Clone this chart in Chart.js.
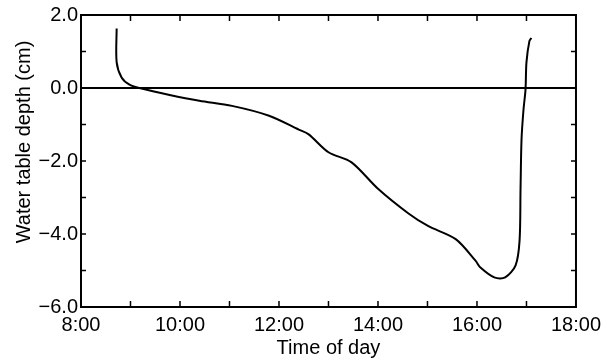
<!DOCTYPE html>
<html>
<head>
<meta charset="utf-8">
<script src="https://cdn.jsdelivr.net/npm/chart.js@4/dist/chart.umd.min.js"></script>
<style>
    html, body { margin: 0; padding: 0; background: #fff; }
    #wrap { width: 607px; height: 360px; }
</style>
</head>
<body>
<div id="wrap"><canvas id="chart"></canvas></div>
<script>
// Time of day (decimal hours) and water table depth (cm)
const times = [8.72, 8.72, 8.82, 8.98, 9.18, 9.79, 10.39, 11.05, 11.80, 12.40, 12.60, 13.00, 13.46,
    14.00, 14.61, 15.01, 15.57, 15.97, 16.07, 16.35, 16.57, 16.78, 16.86, 16.88, 16.90, 16.94,
    16.98, 17.00, 17.06, 17.10];
const depths = [1.63, 0.71, 0.29, 0.09, 0.0, -0.19, -0.35, -0.49, -0.76, -1.14, -1.27, -1.76, -2.03,
    -2.76, -3.43, -3.78, -4.14, -4.73, -4.92, -5.19, -5.19, -4.86, -4.19, -2.76, -1.41, -0.59,
    -0.05, 0.71, 1.29, 1.37];

// zero reference line
const zeroTimes = [8, 18];
const zeroValues = [0, 0];

const xLabelTicks = [8, 10, 12, 14, 16, 18];
const yLabelTicks = [2, 0, -2, -4, -6];

const FONT = "'Liberation Sans', Arial, Helvetica, sans-serif";

function formatTime(h) {
    return h + ':00';
}
function formatDepth(v) {
    const s = Math.abs(v).toFixed(1);
    return v < 0 ? '\u2212' + s : s;
}

// frame, inward ticks on all sides and the rotated y title
const framePlugin = {
    id: 'frame',
    afterDraw(chart) {
        const ctx = chart.ctx;
        const area = chart.chartArea;
        const xs = chart.scales.x;
        const ys = chart.scales.y;
        ctx.save();
        ctx.strokeStyle = '#000';
        ctx.lineWidth = 2;
        ctx.strokeRect(area.left, area.top, area.right - area.left, area.bottom - area.top);

        ctx.lineWidth = 1.5;
        ctx.beginPath();
        for (let h = 9; h < 18; h++) {
            const px = xs.getPixelForValue(h);
            ctx.moveTo(px, area.bottom);
            ctx.lineTo(px, area.bottom - 6);
            ctx.moveTo(px, area.top);
            ctx.lineTo(px, area.top + 6);
        }
        for (let v = -5; v < 2; v++) {
            const py = ys.getPixelForValue(v);
            ctx.moveTo(area.left, py);
            ctx.lineTo(area.left + 5, py);
            ctx.moveTo(area.right, py);
            ctx.lineTo(area.right - 5, py);
        }
        ctx.stroke();

        ctx.fillStyle = '#000';
        ctx.font = '20px ' + FONT;
        ctx.textAlign = 'center';
        ctx.textBaseline = 'middle';
        ctx.translate(24, 142);
        ctx.rotate(-Math.PI / 2);
        ctx.fillText('Water table depth (cm)', 0, 0);
        ctx.restore();
    }
};

const ctx = document.getElementById('chart').getContext('2d');
new Chart(ctx, {
    type: 'line',
    data: {
        datasets: [{
            data: times.map((t, i) => ({ x: t, y: depths[i] })),
            borderColor: '#000',
            borderWidth: 2,
            pointRadius: 0,
            tension: 0.3,
            fill: false
        }, {
            data: zeroTimes.map((t, i) => ({ x: t, y: zeroValues[i] })),
            borderColor: '#000',
            borderWidth: 2,
            pointRadius: 0,
            fill: false
        }]
    },
    options: {
        responsive: true,
        maintainAspectRatio: false,
        animation: false,
        layout: {
            padding: { top: 15, right: 28, left: 0, bottom: 0 }
        },
        plugins: {
            legend: { display: false },
            tooltip: { enabled: false }
        },
        scales: {
            x: {
                type: 'linear',
                min: 8,
                max: 18,
                afterBuildTicks: axis => {
                    axis.ticks = xLabelTicks.map(v => ({ value: v }));
                },
                afterFit: axis => { axis.height = 53; },
                grid: { display: false, drawTicks: false },
                border: { display: false },
                ticks: {
                    color: '#000',
                    padding: 6,
                    maxRotation: 0,
                    font: { family: FONT, size: 20 },
                    callback: v => formatTime(v)
                },
                title: {
                    display: true,
                    text: 'Time of day',
                    color: '#000',
                    padding: { top: 0, bottom: 0 },
                    font: { family: FONT, size: 20 }
                }
            },
            y: {
                min: -6,
                max: 2,
                afterBuildTicks: axis => {
                    axis.ticks = yLabelTicks.map(v => ({ value: v }));
                },
                afterFit: axis => { axis.width = 81; },
                grid: { display: false, drawTicks: false },
                border: { display: false },
                ticks: {
                    color: '#000',
                    padding: 3,
                    font: { family: FONT, size: 20 },
                    callback: v => formatDepth(v)
                }
            }
        }
    },
    plugins: [framePlugin]
});
</script>
</body>
</html>
